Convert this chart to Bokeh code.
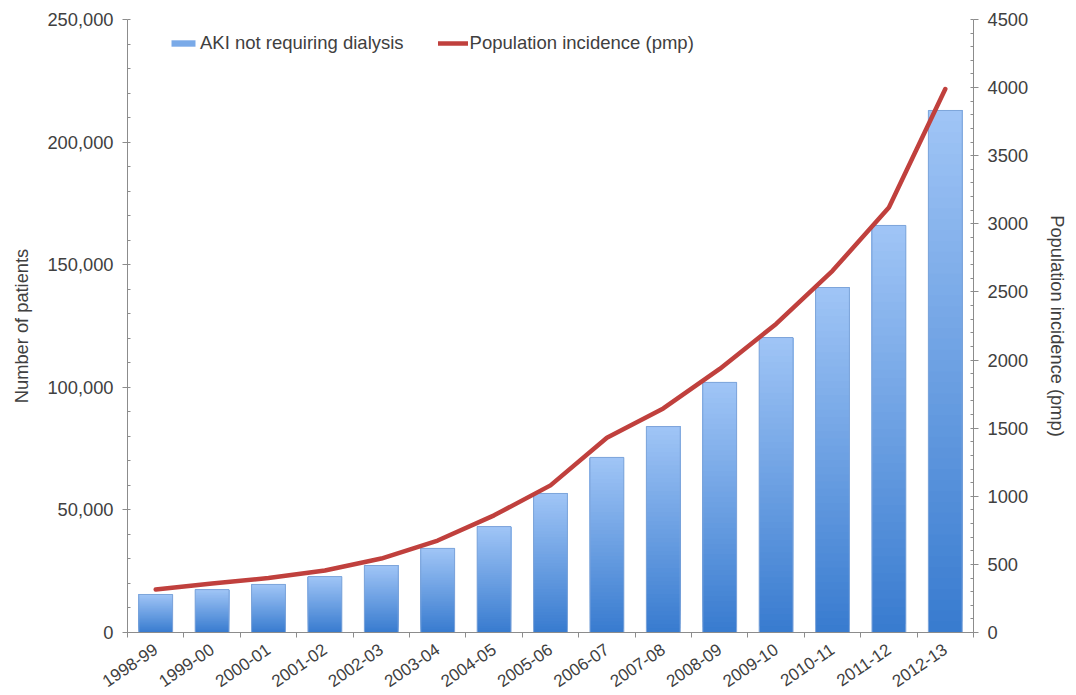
from bokeh.plotting import figure
from bokeh.models import (LinearAxis, Range1d, FixedTicker, NumeralTickFormatter,
                          ColumnDataSource, Legend, LegendItem)
from bokeh.embed import file_html
from bokeh.resources import INLINE

# Financial years
years = ["1998-99", "1999-00", "2000-01", "2001-02", "2002-03", "2003-04", "2004-05",
         "2005-06", "2006-07", "2007-08", "2008-09", "2009-10", "2010-11", "2011-12", "2012-13"]

# AKI episodes not requiring dialysis (number of patients)
patients = [15500, 17500, 19600, 22800, 27300, 34300, 43200, 56700,
            71400, 84000, 102000, 120300, 140700, 166000, 212900]

# Population incidence, per million population
incidence = [315, 360, 400, 455, 543, 675, 860, 1080,
             1430, 1645, 1935, 2265, 2655, 3120, 3990]

left_ticks = [0, 50000, 100000, 150000, 200000, 250000]
right_ticks = [0, 500, 1000, 1500, 2000, 2500, 3000, 3500, 4000, 4500]

FONT = "Liberation Sans"
TEXT = "#404040"
AXIS = "#8c8c8c"

xs = list(range(len(years)))

p = figure(width=1076, height=695, output_backend="svg", toolbar_location=None,
           x_range=Range1d(-0.5, len(years) - 0.5), y_range=Range1d(0, 250000),
           x_axis_type=None, y_axis_type=None,
           min_border_left=127, min_border_right=103, min_border_top=19, min_border_bottom=63)
p.outline_line_color = None
p.background_fill_color = "white"
p.extra_y_ranges = {"pmp": Range1d(0, 4500)}

# Vertical colour gradient inside each bar, dark at the base and light at the top.
# Each layer runs from its own base up to the bar top and covers the one beneath,
# so the stack shows no seams.
top_rgb = (160, 197, 246)
bot_rgb = (56, 123, 207)
n_slices = 48
half = 0.3
q = dict(left=[], right=[], bottom=[], top=[], color=[])
for x, v in zip(xs, patients):
    for k in range(n_slices):
        t = (k + 0.5) / n_slices
        r, g, b = (int(round(bot_rgb[i] + (top_rgb[i] - bot_rgb[i]) * t)) for i in range(3))
        q["left"].append(x - half)
        q["right"].append(x + half)
        q["bottom"].append(v * k / n_slices)
        q["top"].append(v)
        q["color"].append("#%02x%02x%02x" % (r, g, b))
bars = p.quad(left="left", right="right", bottom="bottom", top="top",
              fill_color="color", line_color=None, source=ColumnDataSource(q))
p.vbar(x=xs, top=patients, width=0.6, fill_alpha=0, line_color="#7ea5da", line_width=1)

line = p.line(x=xs, y=incidence, y_range_name="pmp", line_color="#c0403d",
              line_width=4.5, line_cap="round", line_join="round")

# Left axis
la = LinearAxis(ticker=FixedTicker(ticks=left_ticks, minor_ticks=list(range(0, 250001, 10000))),
                formatter=NumeralTickFormatter(format="0,0"),
                axis_label="Number of patients", axis_label_standoff=12)
# Right axis
ra = LinearAxis(y_range_name="pmp",
                ticker=FixedTicker(ticks=right_ticks, minor_ticks=list(range(0, 4501, 100))),
                axis_label="Population incidence (pmp)", axis_label_standoff=16)
for ax in (la, ra):
    ax.axis_line_color = AXIS
    ax.major_tick_line_color = AXIS
    ax.minor_tick_line_color = AXIS
    ax.major_tick_out = 5
    ax.major_tick_in = 0
    ax.minor_tick_out = 0
    ax.minor_tick_in = 3
    ax.major_label_text_font = FONT
    ax.major_label_text_font_size = "18.3px"
    ax.major_label_text_color = TEXT
    ax.axis_label_text_font = FONT
    ax.axis_label_text_font_size = "18.3px"
    ax.axis_label_text_font_style = "normal"
    ax.axis_label_text_color = TEXT
    ax.major_label_standoff = 9
p.add_layout(la, "left")
p.add_layout(ra, "right")

# Bottom axis: a label under each bar, tick marks between categories
xa = LinearAxis(ticker=FixedTicker(ticks=xs, minor_ticks=[i - 0.5 for i in range(len(years) + 1)]),
                major_label_overrides={i: y for i, y in enumerate(years)})
xa.axis_line_color = AXIS
xa.major_tick_line_color = None
xa.major_tick_out = 0
xa.major_tick_in = 0
xa.minor_tick_line_color = AXIS
xa.minor_tick_out = 5
xa.minor_tick_in = 0
xa.major_label_orientation = 0.6
xa.major_label_text_font = FONT
xa.major_label_text_font_size = "17px"
xa.major_label_text_color = TEXT
xa.major_label_standoff = 10
p.add_layout(xa, "below")

legend = Legend(items=[LegendItem(label="AKI not requiring dialysis", renderers=[bars], index=n_slices * 7 + 30),
                       LegendItem(label="Population incidence (pmp)", renderers=[line])],
                orientation="horizontal", location=(41, 578),
                glyph_width=30, glyph_height=8, label_height=18, label_standoff=2,
                spacing=34, padding=0, margin=0,
                border_line_color=None, background_fill_alpha=0,
                label_text_font=FONT, label_text_font_size="18.5px", label_text_color=TEXT)
p.add_layout(legend)

open("out.html", "w").write(file_html(p, INLINE))
